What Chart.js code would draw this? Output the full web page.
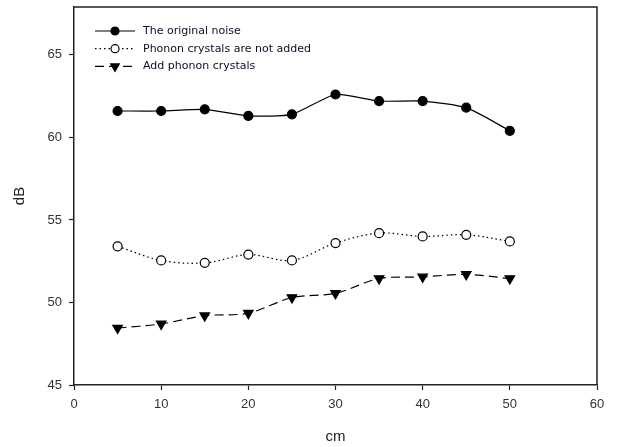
<!DOCTYPE html>
<html>
<head>
<meta charset="utf-8">
<script src="https://cdn.jsdelivr.net/npm/chart.js@4"></script>
<style>
  html, body { margin: 0; padding: 0; background: #fff; }
  #wrap { width: 619px; height: 447px; }
</style>
</head>
<body>
<div id="wrap"><canvas id="grafico"></canvas></div>
<script>
// valores
const distancias = [5, 10, 15, 20, 25, 30, 35, 40, 45, 50];
const ruidoOriginal = [61.6, 61.6, 61.7, 61.3, 61.4, 62.6, 62.2, 62.2, 61.8, 60.4];
const semCristais = [53.4, 52.55, 52.4, 52.9, 52.55, 53.6, 54.2, 54.0, 54.1, 53.7];
const comCristais = [48.45, 48.7, 49.2, 49.35, 50.3, 50.55, 51.45, 51.55, 51.7, 51.45];
const ticksX = [0, 10, 20, 30, 40, 50, 60];
const ticksY = [45, 50, 55, 60, 65];
const nomes = ["The original noise", "Phonon crystals are not added", "Add phonon crystals"];

const tinta = "#222";
const fonte = "'Liberation Sans', Arial, sans-serif";

// moldura (topo e direita) e legenda desenhadas dentro da área do gráfico
const molduraELegenda = {
  id: "molduraELegenda",
  afterDraw(chart) {
    const c = chart.ctx, a = chart.chartArea;
    c.save();
    c.strokeStyle = tinta;
    c.lineWidth = 1.5;
    c.beginPath();
    c.moveTo(a.left, a.top);
    c.lineTo(a.right, a.top);
    c.lineTo(a.right, a.bottom);
    c.stroke();

    chart.data.datasets.forEach((ds, i) => {
      const y = 31 + i * 17.7;
      c.strokeStyle = "#000";
      c.lineWidth = 1.2;
      c.setLineDash(ds.borderDash || []);
      c.beginPath();
      c.moveTo(95, y);
      c.lineTo(135, y);
      c.stroke();
      c.setLineDash([]);
      // drawPoint usa o fill/stroke atuais do contexto
      c.fillStyle = ds.pointBackgroundColor;
      c.strokeStyle = "#000";
      Chart.helpers.drawPoint(c, {
        pointStyle: ds.pointStyle,
        radius: ds.pointRadius - 0.5,
        rotation: ds.pointRotation || 0,
        borderWidth: 1.2,
      }, 115, y);
      c.fillStyle = "#100c24";
      c.font = "11px 'DejaVu Sans'";
      c.textBaseline = "middle";
      c.fillText(nomes[i], 143, y);
    });
    c.restore();
  }
};

new Chart(document.getElementById("grafico"), {
  type: "line",
  data: {
    datasets: [
      {
        label: nomes[0],
        data: distancias.map((x, i) => ({ x, y: ruidoOriginal[i] })),
        borderColor: "#000",
        borderWidth: 1.2,
        pointStyle: "circle",
        pointRadius: 4.5,
        pointBackgroundColor: "#000",
        pointBorderColor: "#000",
        tension: 0.2,
      },
      {
        label: nomes[1],
        data: distancias.map((x, i) => ({ x, y: semCristais[i] })),
        borderColor: "#000",
        borderWidth: 1.2,
        borderDash: [1.5, 3],
        pointStyle: "circle",
        pointRadius: 4.5,
        pointBackgroundColor: "#fff",
        pointBorderColor: "#000",
        pointBorderWidth: 1.2,
        tension: 0.35,
      },
      {
        label: nomes[2],
        data: distancias.map((x, i) => ({ x, y: comCristais[i] })),
        borderColor: "#000",
        borderWidth: 1.2,
        borderDash: [9, 5],
        pointStyle: "triangle",
        pointRotation: 180,
        pointRadius: 5.5,
        pointBackgroundColor: "#000",
        pointBorderColor: "#000",
        tension: 0.3,
      },
    ],
  },
  options: {
    responsive: true, maintainAspectRatio: false, animation: false,
    layout: { padding: { top: 7, right: 22, left: 0, bottom: 0 } },
    plugins: { legend: { display: false }, tooltip: { enabled: false } },
    scales: {
      x: {
        type: "linear", min: 0, max: 60,
        afterBuildTicks: s => { s.ticks = ticksX.map(v => ({ value: v })); },
        afterFit: s => { s.height = 62; s.paddingLeft = 0; s.paddingRight = 0; },
        grid: { drawOnChartArea: false, tickLength: 5, color: tinta, tickWidth: 1.2 },
        border: { color: tinta, width: 1.5 },
        ticks: { color: "#333", font: { family: fonte, size: 13 }, padding: 7 },
        title: { display: true, text: "cm", color: "#222", font: { family: fonte, size: 15 }, padding: { top: 14, bottom: 1 } },
      },
      y: {
        type: "linear", min: 45, max: 67.9,
        afterBuildTicks: s => { s.ticks = ticksY.map(v => ({ value: v })); },
        afterFit: s => { s.width = 74; s.paddingTop = 0; s.paddingBottom = 0; },
        grid: { drawOnChartArea: false, tickLength: 5, color: tinta, tickWidth: 1.2 },
        border: { color: tinta, width: 1.5 },
        ticks: { color: "#333", font: { family: fonte, size: 13 }, padding: 7 },
        title: { display: true, text: "dB", color: "#222", font: { family: fonte, size: 15 }, padding: { top: 11, bottom: 18 } },
      },
    },
  },
  plugins: [molduraELegenda],
});
</script>
</body>
</html>
